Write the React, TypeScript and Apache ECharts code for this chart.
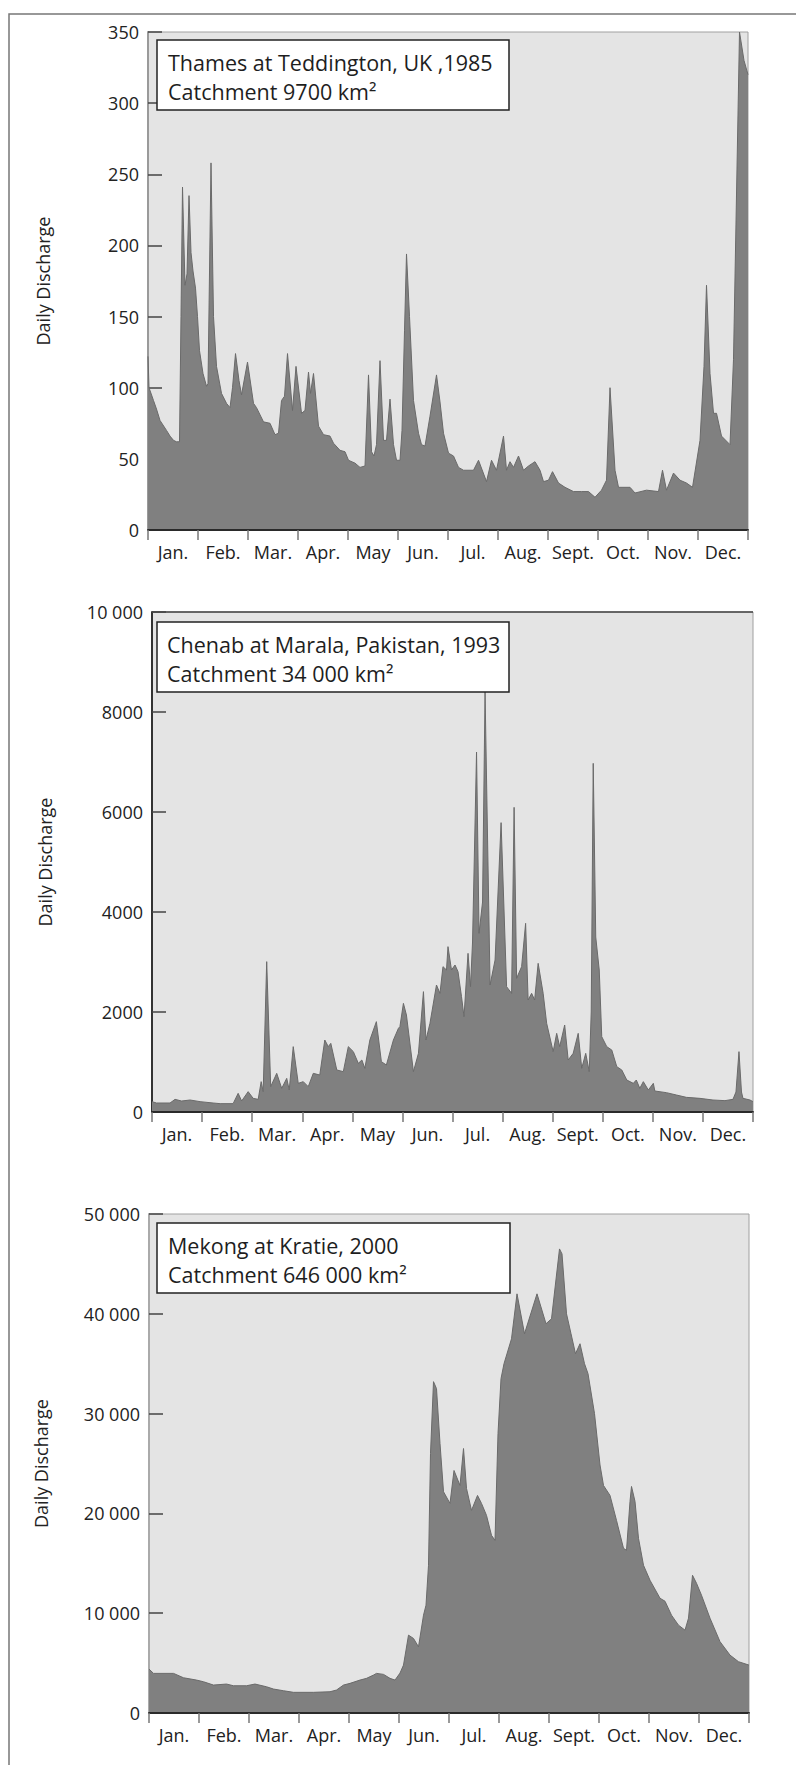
import React, { useEffect, useRef } from "react";
import * as echarts from "echarts";

const months = ["Jan.", "Feb.", "Mar.", "Apr.", "May", "Jun.", "Jul.", "Aug.", "Sept.", "Oct.", "Nov.", "Dec."];
const yName = "Daily Discharge";

const thamesTitle = ["Thames at Teddington, UK ,1985", "Catchment 9700 km²"];
const chenabTitle = ["Chenab at Marala, Pakistan, 1993", "Catchment 34 000 km²"];
const mekongTitle = ["Mekong at Kratie, 2000", "Catchment 646 000 km²"];

const thamesTicks = [0, 350, 50];
const chenabTicks = [0, 10000, 2000];
const mekongTicks = [0, 50000, 10000];

// [month position (0 = 1 Jan, 12 = 31 Dec), daily discharge]
const thames: [number, number][] = [
  [0, 122], [0.02, 100], [0.11, 91], [0.17, 85], [0.24, 77], [0.37, 70], [0.44, 66], [0.51, 63], [0.57, 62],
  [0.63, 62], [0.66, 150], [0.69, 241], [0.74, 172], [0.78, 180], [0.82, 235], [0.86, 195], [0.9, 182],
  [0.95, 170], [0.99, 150], [1.03, 126], [1.1, 110], [1.17, 101], [1.2, 103], [1.26, 258], [1.31, 150],
  [1.37, 115], [1.47, 96], [1.57, 89], [1.64, 86], [1.69, 100], [1.75, 124], [1.82, 105], [1.87, 95],
  [1.99, 118], [2.11, 89], [2.17, 86], [2.31, 76], [2.44, 75], [2.54, 67], [2.61, 68], [2.67, 91],
  [2.73, 94], [2.79, 124], [2.89, 84], [2.96, 115], [3.07, 82], [3.14, 84], [3.21, 111], [3.25, 96],
  [3.31, 110], [3.41, 73], [3.51, 67], [3.64, 66], [3.71, 61], [3.84, 56], [3.94, 55], [4.01, 49],
  [4.14, 47], [4.24, 44], [4.34, 45], [4.41, 109], [4.47, 55], [4.52, 52], [4.57, 60], [4.64, 119],
  [4.71, 63], [4.77, 63], [4.84, 92], [4.91, 60], [4.97, 49], [5.04, 49], [5.08, 70], [5.13, 140],
  [5.17, 194], [5.23, 150], [5.31, 91], [5.41, 68], [5.47, 60], [5.54, 59], [5.64, 80], [5.77, 109],
  [5.84, 90], [5.91, 68], [6.01, 54], [6.11, 52], [6.21, 44], [6.31, 42], [6.51, 42], [6.61, 49],
  [6.77, 34], [6.87, 49], [6.97, 42], [7.11, 66], [7.17, 42], [7.24, 48], [7.31, 44], [7.41, 52],
  [7.51, 42], [7.61, 45], [7.74, 48], [7.84, 42], [7.91, 34], [8.01, 35], [8.09, 41], [8.21, 33],
  [8.34, 30], [8.51, 27], [8.67, 27], [8.81, 27], [8.94, 23], [9.07, 28], [9.17, 35], [9.24, 100],
  [9.34, 42], [9.41, 30], [9.64, 30], [9.74, 26], [9.97, 28], [10.21, 27], [10.29, 42], [10.37, 28],
  [10.51, 40], [10.64, 35], [10.77, 33], [10.89, 30], [11.04, 63], [11.12, 115], [11.17, 172],
  [11.24, 110], [11.31, 82], [11.37, 82], [11.47, 66], [11.64, 60], [11.71, 120], [11.83, 350],
  [11.92, 330], [12, 320],
];

const chenab: [number, number][] = [
  [0, 207], [0.09, 180], [0.36, 180], [0.46, 253], [0.59, 220], [0.76, 240], [0.96, 207], [1.22, 180],
  [1.36, 167], [1.62, 167], [1.72, 373], [1.79, 220], [1.92, 407], [2.02, 273], [2.12, 253], [2.18, 607],
  [2.22, 407], [2.29, 3007], [2.37, 507], [2.49, 773], [2.59, 473], [2.69, 673], [2.74, 440], [2.82, 1307],
  [2.92, 573], [3.02, 607], [3.12, 507], [3.22, 773], [3.35, 740], [3.45, 1440], [3.52, 1307], [3.57, 1373],
  [3.69, 840], [3.82, 807], [3.92, 1307], [4.02, 1207], [4.12, 973], [4.19, 1040], [4.25, 873], [4.35, 1440],
  [4.48, 1807], [4.58, 1007], [4.68, 940], [4.82, 1440], [4.92, 1673], [4.95, 1707], [5.02, 2173],
  [5.08, 1940], [5.22, 807], [5.32, 1173], [5.42, 2407], [5.47, 1440], [5.55, 1773], [5.68, 2540],
  [5.75, 2373], [5.81, 2907], [5.88, 2840], [5.91, 3307], [5.98, 2840], [6.05, 2940], [6.11, 2807],
  [6.18, 2307], [6.23, 1907], [6.31, 3173], [6.36, 2507], [6.4, 3400], [6.48, 7200], [6.53, 3573],
  [6.6, 4200], [6.65, 8400], [6.75, 2540], [6.85, 3040], [6.97, 5787], [7.08, 2507], [7.18, 2373],
  [7.23, 6093], [7.28, 2673], [7.38, 2907], [7.46, 3773], [7.51, 2240], [7.58, 2373], [7.64, 2240],
  [7.71, 2973], [7.81, 2373], [7.88, 1773], [8.01, 1207], [8.08, 1573], [8.14, 1307], [8.24, 1740],
  [8.31, 1040], [8.41, 1173], [8.51, 1573], [8.58, 873], [8.66, 1173], [8.73, 807], [8.77, 2000],
  [8.81, 6973], [8.86, 3500], [8.93, 2840], [8.98, 1507], [9.08, 1307], [9.18, 1240], [9.28, 907],
  [9.38, 840], [9.48, 640], [9.61, 573], [9.67, 640], [9.74, 473], [9.81, 607], [9.91, 440], [10.01, 573],
  [10.04, 420], [10.27, 387], [10.47, 340], [10.67, 293], [10.94, 273], [11.2, 240], [11.44, 227],
  [11.6, 253], [11.66, 400], [11.72, 1207], [11.77, 400], [11.8, 273], [11.94, 240], [12, 207],
];

const mekong: [number, number][] = [
  [0, 4400], [0.09, 3970], [0.49, 3970], [0.69, 3530], [0.95, 3300], [1.09, 3130], [1.29, 2800],
  [1.55, 2900], [1.69, 2730], [1.95, 2730], [2.12, 2900], [2.35, 2630], [2.49, 2400], [2.69, 2230],
  [2.89, 2070], [3.29, 2070], [3.62, 2130], [3.75, 2300], [3.89, 2800], [4.02, 2970], [4.22, 3300],
  [4.35, 3470], [4.49, 3800], [4.55, 3970], [4.69, 3870], [4.82, 3470], [4.92, 3300], [5.02, 4000],
  [5.09, 4800], [5.19, 7800], [5.29, 7470], [5.39, 6630], [5.49, 9800], [5.54, 10800], [5.59, 14800],
  [5.63, 26000], [5.69, 33200], [5.75, 32500], [5.82, 27000], [5.89, 22170], [6.02, 21000], [6.1, 24300],
  [6.22, 22800], [6.29, 26500], [6.35, 22500], [6.45, 20300], [6.57, 21800], [6.65, 21000], [6.75, 19800],
  [6.85, 17800], [6.92, 17300], [6.98, 28000], [7.04, 33500], [7.1, 35000], [7.25, 37500], [7.36, 42000],
  [7.51, 38000], [7.76, 42000], [7.94, 39000], [8.05, 39500], [8.21, 46500], [8.26, 46000], [8.35, 40000],
  [8.44, 38000], [8.53, 36000], [8.62, 37000], [8.71, 35000], [8.78, 34000], [8.91, 30000], [9.02, 24850],
  [9.09, 22800], [9.22, 21800], [9.35, 19300], [9.49, 16500], [9.55, 16300], [9.62, 21200], [9.65, 22700],
  [9.72, 21200], [9.79, 17500], [9.89, 14800], [10.02, 13300], [10.22, 11500], [10.32, 11200],
  [10.45, 9800], [10.59, 8800], [10.72, 8300], [10.79, 9500], [10.87, 13800], [10.95, 13000],
  [11.05, 11800], [11.22, 9500], [11.42, 7150], [11.62, 5800], [11.79, 5140], [12, 4800],
];

const FONT = '"Open Sans", "Noto Sans", sans-serif';

type Panel = {
  grid: { left: number; top: number; width: number; height: number };
  ticks: number[];
  data: [number, number][];
  title: string[];
  box: { x: number; y: number; w: number; h: number; tx: number };
  leftAxisColor: string;
  nameGap: number;
};

const panels: Panel[] = [
  {
    grid: { left: 148, top: 32, width: 600, height: 498 },
    ticks: thamesTicks,
    data: thames,
    title: thamesTitle,
    box: { x: 157, y: 40, w: 352, h: 70, tx: 168 },
    leftAxisColor: "#9a9a9a",
    nameGap: 96,
  },
  {
    grid: { left: 152, top: 612, width: 601, height: 500 },
    ticks: chenabTicks,
    data: chenab,
    title: chenabTitle,
    box: { x: 157, y: 622, w: 352, h: 70, tx: 167 },
    leftAxisColor: "#333",
    nameGap: 98,
  },
  {
    grid: { left: 149, top: 1214, width: 600, height: 499 },
    ticks: mekongTicks,
    data: mekong,
    title: mekongTitle,
    box: { x: 157, y: 1223, w: 353, h: 70, tx: 168 },
    leftAxisColor: "#aaa",
    nameGap: 99,
  },
];

function fmt(v: number): string {
  if (v >= 10000) {
    const s = String(v);
    return s.slice(0, s.length - 3) + " " + s.slice(s.length - 3);
  }
  return String(v);
}

export default function App() {
  const ref = useRef<HTMLDivElement>(null);
  useEffect(() => {
    if (!ref.current) return;
    const chart = echarts.init(ref.current, undefined, { renderer: "svg" });
    const grid: any[] = [];
    const xAxis: any[] = [];
    const yAxis: any[] = [];
    const series: any[] = [];
    const graphic: any[] = [];

    graphic.push({
      type: "rect",
      shape: { x: 9, y: 14, width: 800, height: 1760 },
      style: { fill: "none", stroke: "#777", lineWidth: 1.5 },
      z: 100,
    });

    panels.forEach((p, i) => {
      grid.push({
        left: p.grid.left,
        top: p.grid.top,
        width: p.grid.width,
        height: p.grid.height,
        show: true,
        backgroundColor: "#e4e4e4",
        borderColor: "#a0a0a0",
        borderWidth: 1,
      });
      xAxis.push({
        type: "value",
        gridIndex: i,
        min: 0,
        max: 12,
        show: false,
      });
      xAxis.push({
        type: "category",
        gridIndex: i,
        data: months,
        boundaryGap: true,
        position: "bottom",
        axisLine: { show: true, lineStyle: { color: "#2a2a2a", width: 2 } },
        axisTick: { show: true, interval: 0, length: 10, lineStyle: { color: "#777", width: 1.5 } },
        axisLabel: { interval: 0, color: "#222", fontFamily: FONT, fontSize: 18, margin: 13 },
        splitLine: { show: false },
        z: 5,
      });
      yAxis.push({
        type: "value",
        gridIndex: i,
        min: p.ticks[0],
        max: p.ticks[1],
        interval: p.ticks[2],
        name: yName,
        nameLocation: "middle",
        nameGap: p.nameGap,
        nameRotate: 90,
        nameTextStyle: { color: "#222", fontFamily: FONT, fontSize: 18 },
        axisLine: { show: true, lineStyle: { color: p.leftAxisColor, width: 2 } },
        axisTick: { show: true, inside: true, length: 14, lineStyle: { color: "#444", width: 1.5 } },
        axisLabel: { color: "#222", fontFamily: FONT, fontSize: 18, margin: 9, formatter: fmt },
        splitLine: { show: false },
      });
      series.push({
        type: "line",
        xAxisIndex: i * 2,
        yAxisIndex: i,
        data: p.data,
        symbol: "none",
        smooth: false,
        lineStyle: { color: "#6a6a6a", width: 1 },
        areaStyle: { color: "#808080", opacity: 1 },
        z: 3,
      });
      graphic.push({
        type: "rect",
        shape: { x: p.box.x, y: p.box.y, width: p.box.w, height: p.box.h },
        style: { fill: "#fff", stroke: "#222", lineWidth: 1.5 },
        z: 100,
      });
      p.title.forEach((t, k) => {
        graphic.push({
          type: "text",
          x: p.box.tx,
          y: p.box.y + 22 + k * 29.5,
          style: {
            text: t,
            fill: "#1e1e1e",
            font: `21.5px ${FONT}`,
            verticalAlign: "middle",
            align: "left",
          },
          z: 101,
        });
      });
    });

    // darker top frame line on the middle panel
    graphic.push({
      type: "line",
      shape: { x1: 152, y1: 612, x2: 753, y2: 612 },
      style: { stroke: "#444", lineWidth: 1.5 },
      z: 99,
    });

    chart.setOption({
      animation: false,
      backgroundColor: "#fff",
      grid,
      xAxis,
      yAxis,
      series,
      graphic,
    });
    return () => chart.dispose();
  }, []);
  return (
    <div
      ref={ref}
      style={{ position: "absolute", left: 0, top: 0, width: 796, height: 1765 }}
    />
  );
}
